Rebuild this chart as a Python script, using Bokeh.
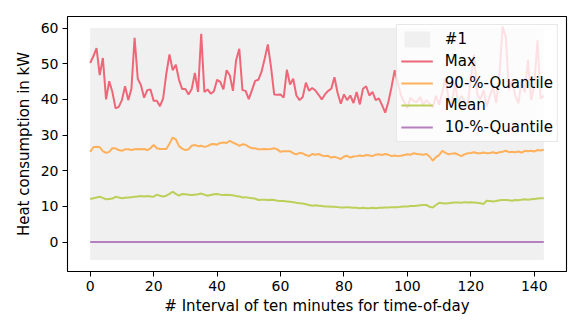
from bokeh.plotting import figure
from bokeh.models import Range1d, Legend, LegendItem, FixedTicker
from bokeh.embed import file_html
from bokeh.resources import INLINE

# ---- data ----
intervals = list(range(144))
band_low = -5
band_high = 60

max_vals = [50.2, 52.1, 54.4, 46.8, 51.6, 40.0, 45.1, 42.1, 37.5, 37.9,
            39.8, 43.7, 39.8, 43.0, 57.3, 45.8, 44.0, 40.5, 42.6, 42.8,
            39.6, 39.6, 38.1, 40.3, 47.2, 52.6, 48.2, 49.7, 45.5, 42.9,
            42.9, 41.4, 42.9, 47.4, 42.1, 58.4, 42.1, 42.8, 41.6, 42.3,
            45.5, 44.9, 42.8, 48.2, 46.8, 42.4, 51.0, 54.2, 42.6, 42.4,
            40.1, 42.6, 45.2, 45.5, 47.7, 51.4, 55.4, 49.1, 41.4, 41.3,
            41.4, 40.5, 48.3, 44.2, 45.8, 41.1, 39.8, 40.7, 44.7, 42.4,
            43.2, 42.5, 41.3, 40.0, 41.4, 42.4, 43.0, 46.2, 41.8, 38.8,
            41.4, 39.8, 41.1, 39.0, 42.1, 38.6, 43.0, 43.7, 41.1, 42.1,
            39.8, 40.3, 38.4, 36.3, 39.3, 43.5, 48.2, 44.5, 41.0, 39.3,
            37.5, 40.5, 39.5, 39.3, 40.7, 38.5, 39.8, 38.8, 37.8, 41.0,
            38.5, 42.0, 46.0, 40.0, 38.5, 44.5, 39.0, 41.0, 39.5, 38.5,
            46.0, 52.5, 41.5, 40.0, 42.6, 38.0, 41.0, 43.6, 39.0, 47.0,
            60.4, 57.6, 42.6, 45.4, 41.0, 38.9, 45.4, 42.0, 51.0, 39.8,
            44.0, 56.6, 40.3, 41.0]

q90_vals = [25.3, 26.6, 26.7, 26.6, 25.5, 25.0, 25.3, 26.3, 26.3, 25.8,
            25.6, 26.0, 26.0, 25.8, 26.0, 26.1, 26.0, 26.1, 25.8, 26.3,
            27.2, 26.3, 26.1, 26.1, 26.1, 27.6, 29.3, 28.8, 26.9, 26.2,
            25.8, 26.0, 27.0, 27.2, 26.9, 27.0, 26.7, 26.9, 27.4, 27.5,
            27.3, 27.8, 27.9, 27.8, 28.4, 27.9, 27.5, 27.0, 27.4, 27.3,
            26.7, 26.3, 26.3, 26.0, 26.0, 26.1, 26.0, 26.1, 26.3, 26.0,
            25.3, 25.5, 25.5, 25.5, 24.9, 24.6, 25.0, 24.9, 24.4, 24.1,
            24.7, 24.5, 24.7, 24.3, 24.1, 24.2, 23.7, 23.9, 23.6, 23.3,
            24.0, 24.2, 23.7, 24.0, 24.1, 24.3, 24.1, 24.4, 24.3, 24.1,
            24.5, 24.6, 24.4, 24.7, 24.5, 24.1, 24.3, 24.1, 24.2, 24.4,
            24.6, 24.5, 24.9, 24.7, 24.6, 24.5, 24.7, 24.0, 22.8, 23.8,
            24.4, 25.6, 25.0, 24.6, 24.8, 24.9, 24.5, 24.1, 24.6, 24.9,
            25.0, 25.2, 24.9, 24.9, 25.1, 24.9, 25.0, 25.2, 24.9, 25.2,
            25.3, 25.6, 25.2, 25.3, 25.2, 25.4, 25.1, 25.6, 25.5, 25.6,
            25.4, 25.8, 25.7, 25.9]

mean_vals = [12.1, 12.3, 12.5, 12.7, 12.4, 12.0, 12.1, 12.2, 12.7, 12.5,
             12.3, 12.4, 12.5, 12.6, 12.7, 12.8, 12.9, 12.8, 12.9, 12.8,
             12.7, 13.3, 13.0, 12.8, 13.0, 13.5, 14.1, 13.5, 13.0, 13.5,
             13.4, 13.3, 13.2, 13.3, 13.4, 13.6, 13.3, 13.0, 13.2, 13.4,
             13.5, 13.3, 13.2, 13.3, 13.2, 13.1, 12.9, 12.8, 12.5, 12.6,
             12.4, 12.3, 12.2, 11.8, 11.9, 11.9, 11.8, 11.9, 11.8, 11.6,
             11.5, 11.5, 11.4, 11.3, 11.2, 11.0, 10.9, 10.8, 10.6, 10.4,
             10.2, 10.3, 10.2, 10.1, 10.0, 10.0, 9.9, 9.9, 9.8, 9.7,
             9.7, 9.8, 9.7, 9.6, 9.6, 9.5, 9.6, 9.5, 9.5, 9.6,
             9.5, 9.6, 9.6, 9.7, 9.7, 9.8, 9.8, 9.8, 9.9, 10.0,
             10.0, 10.1, 10.1, 10.2, 10.3, 10.4, 10.4, 9.9, 9.7, 10.4,
             11.0, 10.9, 10.8, 10.9, 11.0, 11.1, 11.1, 11.0, 11.2, 11.1,
             11.2, 11.1, 11.0, 10.9, 10.7, 11.6, 11.5, 11.4, 11.5, 11.7,
             11.8, 11.8, 11.7, 11.6, 11.8, 11.7, 11.9, 12.0, 11.9, 12.0,
             12.1, 12.2, 12.3, 12.3]

q10_vals = [0.0] * 144

x_ticks = [0, 20, 40, 60, 80, 100, 120, 140]
y_ticks = [0, 10, 20, 30, 40, 50, 60]

FONT = "DejaVu Sans"
TICK_FS = "14px"
LABEL_FS = "15px"
LEGEND_FS = "15px"

p = figure(width=573, height=319, output_backend="svg", toolbar_location=None,
           x_range=Range1d(-7.15, 150.15), y_range=Range1d(-8.25, 63.25),
           min_border_left=67, min_border_top=16, min_border_right=7,
           min_border_bottom=48)
p.xgrid.visible = False
p.ygrid.visible = False
p.outline_line_color = "black"
p.outline_line_width = 1.1
p.background_fill_color = "white"

band = p.varea(x=[intervals[0], intervals[-1]], y1=[band_low, band_low],
               y2=[band_high, band_high], fill_color="#f0f0f0")
r_max = p.line(intervals, max_vals, line_color="#ee6677", line_width=2)
r_q90 = p.line(intervals, q90_vals, line_color="#ffb05a", line_width=2)
r_mean = p.line(intervals, mean_vals, line_color="#bbd058", line_width=2)
r_q10 = p.line(intervals, q10_vals, line_color="#b580c0", line_width=2)

for ax in (p.xaxis[0], p.yaxis[0]):
    ax.major_tick_in = 0
    ax.major_tick_out = 5
    ax.minor_tick_in = 0
    ax.minor_tick_out = 0
    ax.axis_line_color = None
    ax.major_tick_line_color = "black"
    ax.major_label_text_font = FONT
    ax.major_label_text_font_size = TICK_FS
    ax.major_label_text_color = "black"
    ax.axis_label_text_font = FONT
    ax.axis_label_text_font_size = LABEL_FS
    ax.axis_label_text_font_style = "normal"
    ax.axis_label_text_color = "black"
    ax.major_label_standoff = 4

p.xaxis.ticker = FixedTicker(ticks=x_ticks)
p.yaxis.ticker = FixedTicker(ticks=y_ticks)
p.xaxis.axis_label = "# Interval of ten minutes for time-of-day"
p.yaxis.axis_label = "Heat consumption in kW"
p.xaxis.axis_label_standoff = 3
p.yaxis.axis_label_standoff = 5

legend = Legend(items=[
    LegendItem(label="#1", renderers=[band]),
    LegendItem(label="Max", renderers=[r_max]),
    LegendItem(label="90-%-Quantile", renderers=[r_q90]),
    LegendItem(label="Mean", renderers=[r_mean]),
    LegendItem(label="10-%-Quantile", renderers=[r_q10]),
], location="top_right")
legend.margin = 8
legend.padding = 4
legend.spacing = 2
legend.glyph_width = 32
legend.glyph_height = 20
legend.label_height = 20
legend.label_standoff = 12
legend.label_text_font = FONT
legend.label_text_font_size = LEGEND_FS
legend.label_text_color = "black"
legend.border_line_color = "#d0d0d0"
legend.border_line_width = 1
legend.background_fill_color = "white"
legend.background_fill_alpha = 0.8
p.add_layout(legend, "center")

open("out.html", "w").write(file_html(p, INLINE))
